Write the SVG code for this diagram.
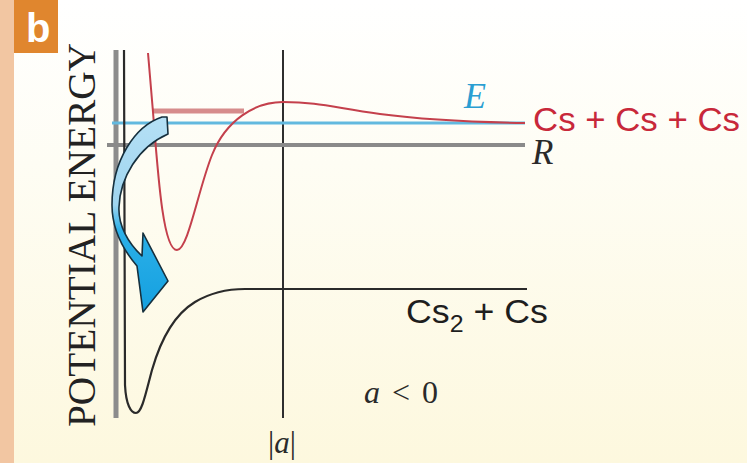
<svg xmlns="http://www.w3.org/2000/svg" width="747" height="463" viewBox="0 0 747 463">
<defs>
<linearGradient id="bg" x1="0" y1="0" x2="0" y2="1">
<stop offset="0" stop-color="#ffffff"/>
<stop offset="0.35" stop-color="#fefdf4"/>
<stop offset="1" stop-color="#fdf8de"/>
</linearGradient>
<linearGradient id="arrowFill" gradientUnits="userSpaceOnUse" x1="0" y1="117" x2="0" y2="312">
<stop offset="0" stop-color="#b5e0f5"/>
<stop offset="0.45" stop-color="#9fd5ef"/>
<stop offset="0.58" stop-color="#2cb0e8"/>
<stop offset="1" stop-color="#14a0e0"/>
</linearGradient>
<style>
.serif{font-family:"Liberation Serif","Times New Roman",serif;}
.sans{font-family:"Liberation Sans",Arial,sans-serif;}
.ital{font-style:italic;}
</style>
</defs>
<rect x="0" y="0" width="747" height="463" fill="url(#bg)"/>
<rect x="0" y="0" width="14" height="463" fill="#f2c6a2"/>
<g id="label-b">
<rect x="14" y="0" width="44" height="53" fill="#e0862e"/>
<text x="26" y="42" class="sans" font-weight="bold" font-size="40" fill="#ffffff">b</text>
</g>
<g id="ylabel">
<text class="serif" font-size="39" fill="#222" textLength="384" lengthAdjust="spacingAndGlyphs" transform="translate(95,427) rotate(-90)">POTENTIAL ENERGY</text>
</g>
<g id="connectors">
<line x1="116" y1="50" x2="116" y2="418" stroke="#8c8c8c" stroke-width="5"/>
<line x1="283" y1="50" x2="283" y2="418" stroke="#2e2e2e" stroke-width="2"/>
<line x1="107" y1="145" x2="525" y2="145" stroke="#8a8a8a" stroke-width="4"/>
<line x1="112" y1="123" x2="525" y2="123" stroke="#62b9df" stroke-width="3"/>
<path d="M124,50 L125,385 C126,405 131,413 136,413 C142,413 146,392 152,370 C160,342 172,316 195,302 C210,293 225,289 245,289 L527,289" fill="none" stroke="#2a2a2a" stroke-width="2.2"/>
<line x1="153" y1="111" x2="244" y2="111" stroke="#d68c8c" stroke-width="5"/>
<path d="M148,53 L153,112 C158,175 163,250 177,250 C188,250 198,190 212,155 C226,120 255,102 283,102 C320,102 335,108 380,114 C425,120 470,122 525,123" fill="none" stroke="#c4404c" stroke-width="2"/>
</g>
<g id="arrow">
<path d="M167,117 L162,117 C135,126 112,160 112,205 C112,232 125,252 137,266 L143,312 L168,281 L143,233 L142,256 C128,243 118,225 119,207 C120,178 138,147 168,134 Z" fill="url(#arrowFill)" stroke="#16303e" stroke-width="1.6" stroke-linejoin="round"/>
</g>
<g id="labels">
<text x="464" y="108" class="serif ital" font-size="36" fill="#2a9ed2">E</text>
<text x="533" y="131" class="sans" font-size="33" fill="#c8283a" textLength="207" lengthAdjust="spacingAndGlyphs">Cs + Cs + Cs</text>
<text x="532" y="164" class="serif ital" font-size="35" fill="#2a2a2a">R</text>
<text x="406" y="323" class="sans" font-size="33" fill="#1e1e1e" textLength="142" lengthAdjust="spacingAndGlyphs">Cs<tspan font-size="23" dy="9">2</tspan><tspan dy="-9"> + Cs</tspan></text>
<text x="364" y="403" class="serif" font-size="32" fill="#2a2a2a" textLength="74" lengthAdjust="spacing"><tspan font-style="italic">a</tspan> &lt; 0</text>
<text x="268" y="453" class="serif" font-size="31" fill="#2a2a2a">|<tspan font-style="italic">a</tspan>|</text>
</g>
</svg>
